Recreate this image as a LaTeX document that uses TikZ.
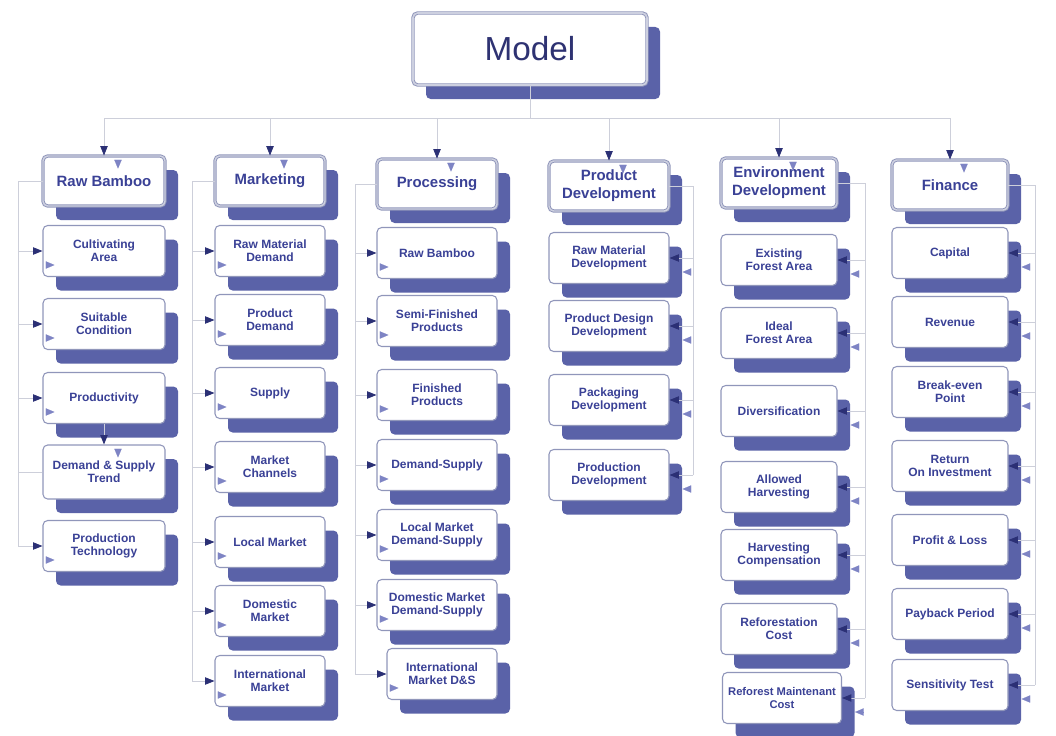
\documentclass[tikz,border=0pt]{standalone}
\usepackage{fontspec}
\setmainfont{Liberation Sans}
\usetikzlibrary{arrows.meta,shadows,calc}
\definecolor{txt}{HTML}{3A4196}
\definecolor{mtxt}{HTML}{2E3272}
\definecolor{shd}{HTML}{5A62A8}
\definecolor{bord}{HTML}{9096BA}
\definecolor{ln}{HTML}{CDCFDA}
\definecolor{tipc}{HTML}{2B3075}
\definecolor{ltip}{HTML}{7E84C4}
\begin{document}
\begin{tikzpicture}[x=0.75pt,y=-0.75pt,
  base/.style={rounded corners=3.5pt, fill=white, align=center, inner sep=1pt, text=txt,
    general shadow={fill=shd, shadow xshift=9.75pt, shadow yshift=-10.5pt}},
  headbox/.style={base, draw=bord, line width=0.7pt, double=bord!45!white, double distance=1.1pt,
    font=\bfseries\fontsize{11.2}{13.3}\selectfont, minimum height=37.5pt},
  childbox/.style={base, draw=bord, line width=0.8pt,
    font=\bfseries\fontsize{9}{10}\selectfont, minimum height=38.25pt},
  modelbox/.style={base, draw=bord, line width=0.7pt, double=bord!45!white, double distance=1.2pt,
    text=mtxt, font=\fontsize{25}{30}\selectfont, minimum width=175.5pt, minimum height=54pt},
  conn/.style={draw=ln, line width=0.6pt},
  arr/.style={conn, -{Triangle[length=7pt,width=5.5pt,color=tipc]}},
  ltipst/.style={draw=ltip, line width=0.1pt, -{Triangle[length=6.5pt,width=5.5pt,color=ltip]}},
  wrb/.style={minimum width=91.5pt},
  wmk/.style={minimum width=82.5pt},
  wpr/.style={minimum width=90pt},
  wen/.style={minimum width=87pt}
]
\useasboundingbox (0,0) rectangle (1056,735);

% Model
\node[modelbox] (model) at (530,49) {Model};

% Raw Bamboo column
\node[headbox,wrb] (rb) at (104,181) {Raw Bamboo};
\node[childbox,wrb] (rb1) at (104,251) {Cultivating\\Area};
\node[childbox,wrb] (rb2) at (104,324) {Suitable\\Condition};
\node[childbox,wrb] (rb3) at (104,398) {Productivity};
\node[childbox,wrb,minimum height=40.5pt] (rb4) at (104,472) {Demand \& Supply\\Trend};
\node[childbox,wrb] (rb5) at (104,546) {Production\\Technology};

% Marketing column
\node[headbox,wmk] (mk) at (270,181) {Marketing};
\node[childbox,wmk] (mk1) at (270,251) {Raw Material\\Demand};
\node[childbox,wmk] (mk2) at (270,320) {Product\\Demand};
\node[childbox,wmk] (mk3) at (270,393) {Supply};
\node[childbox,wmk] (mk4) at (270,467) {Market\\Channels};
\node[childbox,wmk] (mk5) at (270,542) {Local Market};
\node[childbox,wmk] (mk6) at (270,611) {Domestic\\Market};
\node[childbox,wmk] (mk7) at (270,681) {International\\Market};

% Processing column
\node[headbox,wpr] (pr) at (437,184) {Processing};
\node[childbox,wpr] (pr1) at (437,253) {Raw Bamboo};
\node[childbox,wpr] (pr2) at (437,321) {Semi-Finished\\Products};
\node[childbox,wpr] (pr3) at (437,395) {Finished\\Products};
\node[childbox,wpr] (pr4) at (437,465) {Demand-Supply};
\node[childbox,wpr] (pr5) at (437,535) {Local Market\\Demand-Supply};
\node[childbox,wpr] (pr6) at (437,605) {Domestic Market\\Demand-Supply};
\node[childbox,wmk] (pr7) at (442,674) {International\\Market D\&S};

% Product Development column
\node[headbox,wpr] (pd) at (609,186) {Product\\Development};
\node[childbox,wpr] (pd1) at (609,258) {Raw Material\\Development};
\node[childbox,wpr] (pd2) at (609,326) {Product Design\\Development};
\node[childbox,wpr] (pd3) at (609,400) {Packaging\\Development};
\node[childbox,wpr] (pd4) at (609,475) {Production\\Development};

% Environment Development column
\node[headbox,wen] (en) at (779,183) {Environment\\Development};
\node[childbox,wen] (en1) at (779,260) {Existing\\Forest Area};
\node[childbox,wen] (en2) at (779,333) {Ideal\\Forest Area};
\node[childbox,wen] (en3) at (779,411) {Diversification};
\node[childbox,wen] (en4) at (779,487) {Allowed\\Harvesting};
\node[childbox,wen] (en5) at (779,555) {Harvesting\\Compensation};
\node[childbox,wen] (en6) at (779,629) {Reforestation\\Cost};
\node[childbox,minimum width=89.25pt,inner sep=0pt,font=\bfseries\fontsize{8.4}{10}\selectfont] (en7) at (782,698) {Reforest Maintenant\\Cost};

% Finance column
\node[headbox,wen] (fi) at (950,185) {Finance};
\node[childbox,wen] (fi1) at (950,253) {Capital};
\node[childbox,wen] (fi2) at (950,322) {Revenue};
\node[childbox,wen] (fi3) at (950,392) {Break-even\\Point};
\node[childbox,wen] (fi4) at (950,466) {Return\\On Investment};
\node[childbox,wen] (fi5) at (950,540) {Profit \& Loss};
\node[childbox,wen] (fi6) at (950,614) {Payback Period};
\node[childbox,wen] (fi7) at (950,685) {Sensitivity Test};

% Top bus
\coordinate (hub) at (530,118);
\draw[conn] (model.south) -- (hub);
\draw[conn] (rb.north |- hub) -- (fi.north |- hub);
\foreach \h in {rb,mk,pr,pd,en,fi}{
  \draw[arr] (\h.north |- hub) -- (\h.north);
  \draw[ltipst] ([shift={(14,11)}]\h.north) -- ++(0,2);
}

% Spines
\coordinate (rbs) at (18,0);
\coordinate (mks) at (192,0);
\coordinate (prs) at (355,0);
\coordinate (pds) at (693,0);
\coordinate (ens) at (865,0);
\coordinate (fis) at (1035,0);

% Raw Bamboo
\draw[conn] (rb.west) -- (rb.west -| rbs) -- (rb5.west -| rbs);
\foreach \i in {1,2,3,5}{
  \draw[arr] (rb\i.west -| rbs) -- (rb\i.west);
  \draw[ltipst] ([shift={(10,14)}]rb\i.west) -- ++(2,0);
}
\draw[conn] (rb4.west -| rbs) -- (rb4.west);
\draw[arr] (rb3.south) -- (rb4.north);
\draw[ltipst] ([shift={(14,11)}]rb4.north) -- ++(0,2);

% Marketing
\draw[conn] (mk.west) -- (mk.west -| mks) -- (mk7.west -| mks);
\foreach \i in {1,...,7}{
  \draw[arr] (mk\i.west -| mks) -- (mk\i.west);
  \draw[ltipst] ([shift={(10,14)}]mk\i.west) -- ++(2,0);
}

% Processing
\draw[conn] (pr.west) -- (pr.west -| prs) -- (pr7.west -| prs);
\foreach \i in {1,...,7}{
  \draw[arr] (pr\i.west -| prs) -- (pr\i.west);
  \draw[ltipst] ([shift={(10,14)}]pr\i.west) -- ++(2,0);
}

% Product Development
\draw[conn] (pd.east) -- (pd.east -| pds) -- (pd4.east -| pds);
\foreach \i in {1,...,4}{
  \draw[arr] (pd\i.east -| pds) -- (pd\i.east);
  \draw[ltipst] ([shift={(15,14)}]pd\i.east) -- ++(-2,0);
}

% Environment Development
\draw[conn] (en.east) -- (en.east -| ens) -- (en7.east -| ens);
\foreach \i in {1,...,7}{
  \draw[arr] (en\i.east -| ens) -- (en\i.east);
  \draw[ltipst] ([shift={(15,14)}]en\i.east) -- ++(-2,0);
}

% Finance
\draw[conn] (fi.east) -- (fi.east -| fis) -- (fi7.east -| fis);
\foreach \i in {1,...,7}{
  \draw[arr] (fi\i.east -| fis) -- (fi\i.east);
  \draw[ltipst] ([shift={(15,14)}]fi\i.east) -- ++(-2,0);
}
\end{tikzpicture}
\end{document}
